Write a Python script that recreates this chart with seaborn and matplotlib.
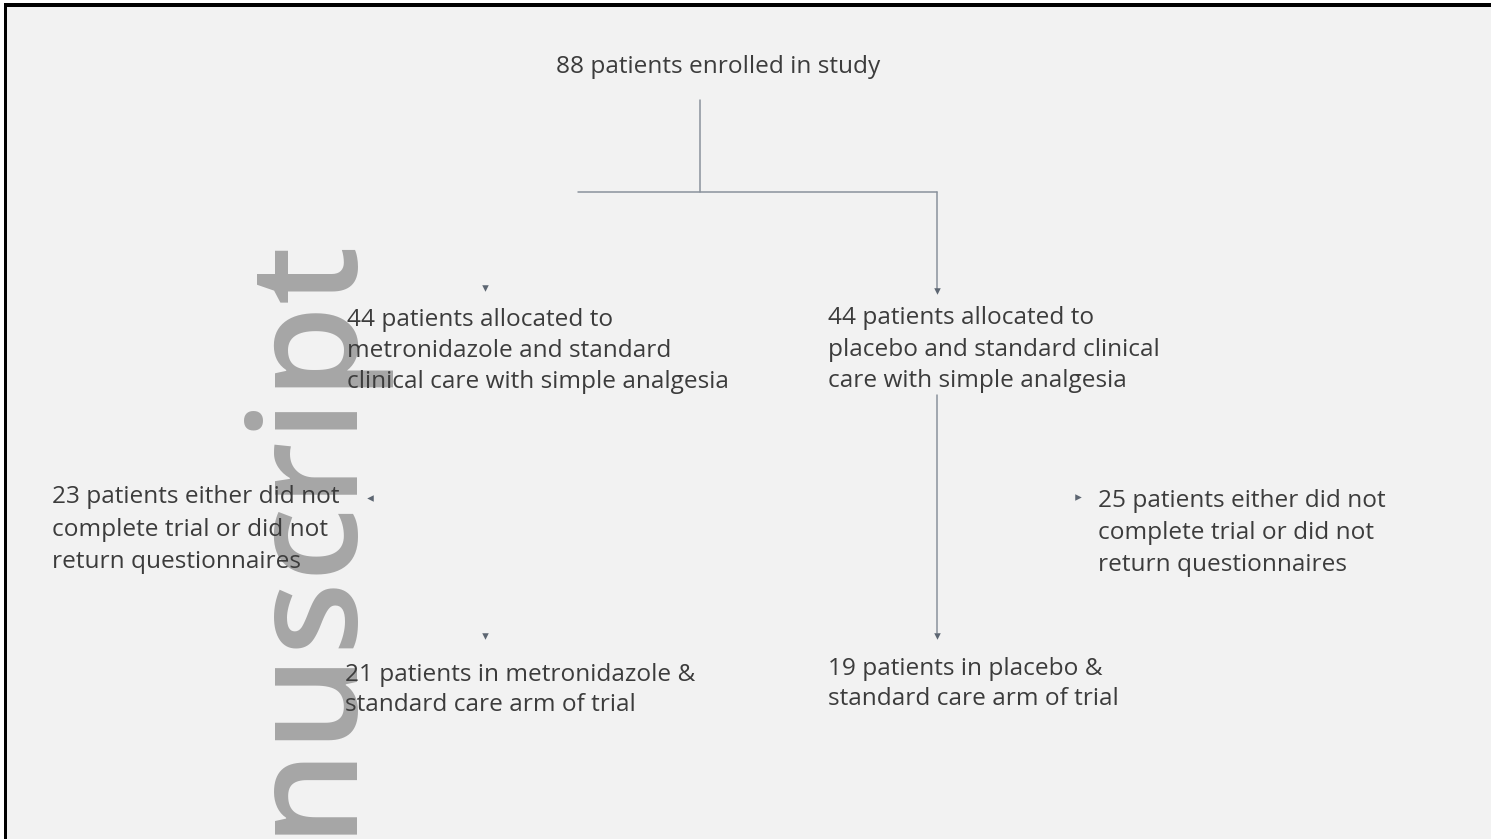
import matplotlib
matplotlib.use("Agg")
import matplotlib.pyplot as plt
import pandas as pd
import seaborn as sns


# ------------------------------------------------------------
# 1. Trial flow data
# ------------------------------------------------------------

enrolled_text = ["88 patients enrolled in study"]
allocated_metro = ["44 patients allocated to",
                   "metronidazole and standard",
                   "clinical care with simple analgesia"]
allocated_placebo = ["44 patients allocated to",
                     "placebo and standard clinical",
                     "care with simple analgesia"]
dropped_metro = ["23 patients either did not",
                 "complete trial or did not",
                 "return questionnaires"]
dropped_placebo = ["25 patients either did not",
                   "complete trial or did not",
                   "return questionnaires"]
final_metro = ["21 patients in metronidazole &",
               "standard care arm of trial"]
final_placebo = ["19 patients in placebo &",
                 "standard care arm of trial"]

watermark = "nuscript"


# ------------------------------------------------------------
# 2. Layout (pixel coordinates of the page)
# ------------------------------------------------------------

W, H = 1499, 839
TEXT_COLOR = "#3c3c3c"
LINE_COLOR = "#8a929c"
HEAD_COLOR = "#5d6672"
FONT_SIZE = 17.6

boxes = [
    (enrolled_text, 556, 67, 31.5),
    (allocated_metro, 347, 320, 31.0),
    (allocated_placebo, 828, 318, 31.5),
    (dropped_metro, 52, 497, 32.5),
    (dropped_placebo, 1098, 501, 32.0),
    (final_metro, 345, 675, 30.0),
    (final_placebo, 828, 669, 30.0),
]

# connector segments: (segment id, x, y)
segments = pd.DataFrame({
    "seg": [0, 0, 1, 1, 2, 2, 3, 3],
    "x": [700, 700, 578, 937, 937, 937, 937, 937],
    "y": [100, 192, 192, 192, 192, 290, 395, 633],
})

# arrow heads: (x, y, marker)
heads = [
    (485, 288, "v"),
    (937, 291, "v"),
    (485, 636, "v"),
    (937, 636, "v"),
    (370, 498, "<"),
    (1078, 497, ">"),
]


# ------------------------------------------------------------
# 3. Draw
# ------------------------------------------------------------

sns.set_theme(style="white")
plt.rcParams["font.family"] = ["Open Sans", "DejaVu Sans"]

fig = plt.figure(figsize=(W / 100, H / 100), dpi=100)
ax = fig.add_axes([0, 0, 1, 1])
ax.set_xlim(0, W)
ax.set_ylim(H, 0)
ax.axis("off")

# page background and black frame
ax.add_patch(plt.Rectangle((4, 3), 1487, H, facecolor="#f2f2f2", edgecolor="none", zorder=0))
ax.add_patch(plt.Rectangle((4, 3), 1487, 4, facecolor="black", edgecolor="none", zorder=1))
ax.add_patch(plt.Rectangle((4, 3), 3, H, facecolor="black", edgecolor="none", zorder=1))

# watermark
ax.text(346, 834, watermark, rotation=90, rotation_mode="anchor",
        ha="left", va="baseline", fontsize=109, fontweight="semibold",
        color="#a6a6a6", zorder=2)

# connectors
sns.lineplot(data=segments, x="x", y="y", units="seg", estimator=None, sort=False,
             color=LINE_COLOR, linewidth=1.1, ax=ax, zorder=3)
for x, y, m in heads:
    ax.scatter(x, y, marker=m, s=22, color=HEAD_COLOR, linewidths=0, zorder=4)

# text boxes
for lines, x0, y0, step in boxes:
    for i, line in enumerate(lines):
        ax.text(x0, y0 + i * step, line, ha="left", va="center",
                fontsize=FONT_SIZE, color=TEXT_COLOR, zorder=5)

ax.set_xlabel("")
ax.set_ylabel("")
fig.savefig("out.png", dpi=100, facecolor="white")
plt.close(fig)
